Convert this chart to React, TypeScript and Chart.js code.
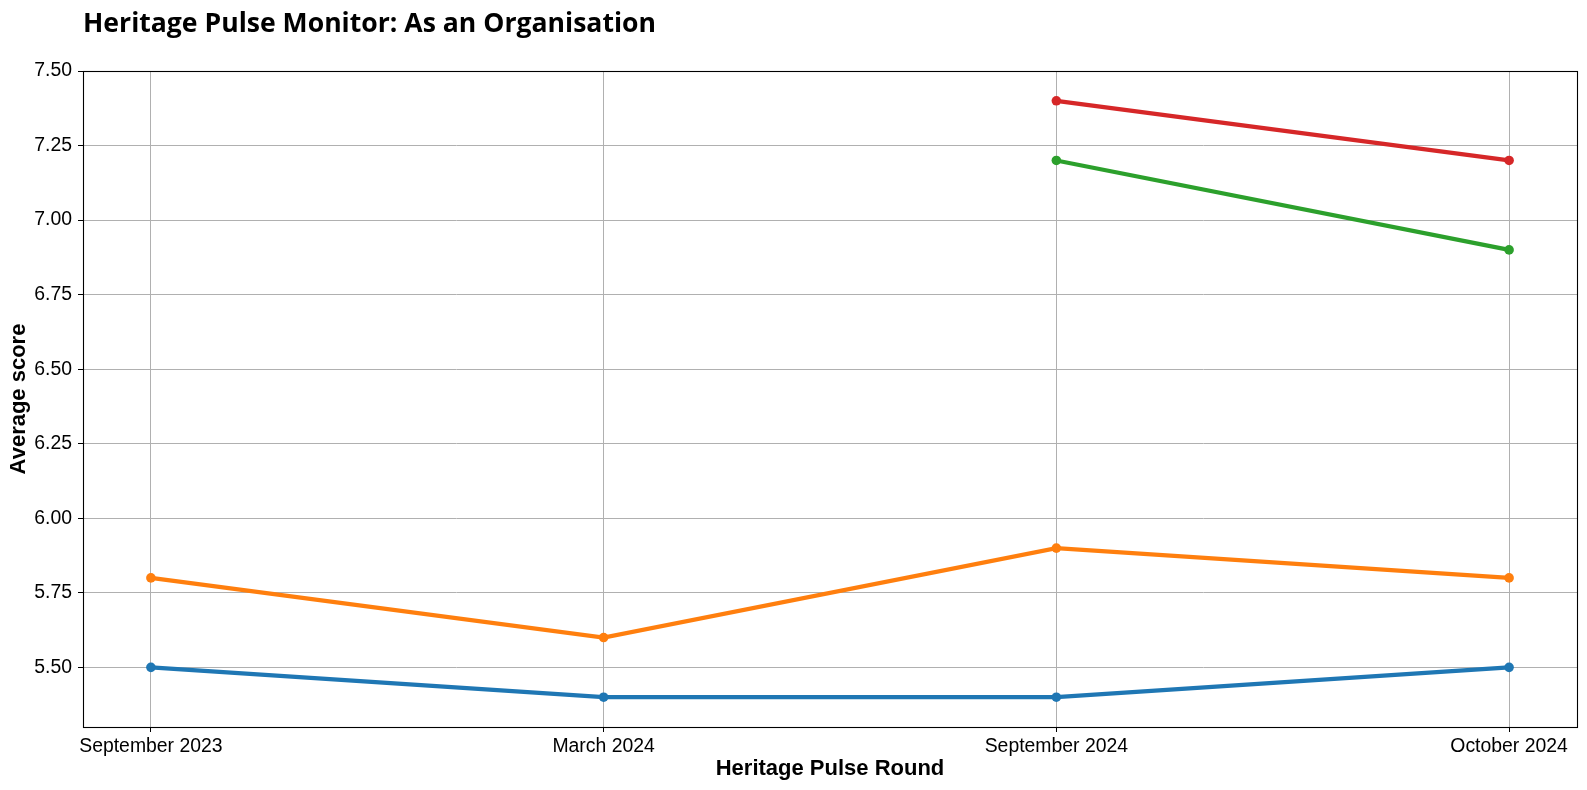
import React, { useEffect, useRef } from "react";
import { Chart, registerables } from "chart.js";

Chart.register(...registerables);

const TITLE = "Heritage Pulse Monitor: As an Organisation";
const X_TITLE = "Heritage Pulse Round";
const Y_TITLE = "Average score";

const rounds = ["September 2023", "March 2024", "September 2024", "October 2024"];
const seriesBlue = [5.5, 5.4, 5.4, 5.5];
const seriesOrange = [5.8, 5.6, 5.9, 5.8];
const seriesGreen = [null, null, 7.2, 6.9];
const seriesRed = [null, null, 7.4, 7.2];
const yTickValues = [5.5, 5.75, 6.0, 6.25, 6.5, 6.75, 7.0, 7.25, 7.5];

const Y_MIN = 5.3;
const Y_MAX = 7.5;
const X_MIN = -0.15;
const X_MAX = 3.15;

const TICK_FONT = "'Liberation Sans', Arial, sans-serif";
const TITLE_FONT = "'Open Sans', 'Noto Sans', sans-serif";
const TITLE_WIDTH = 573;

const toPoints = (vals: (number | null)[]) => vals.map((v, i) => ({ x: i, y: v }));

const titlePlugin = {
  id: "titleAndFrame",
  afterDatasetsDraw(chart: any) {
    const { ctx, chartArea } = chart;
    ctx.save();
    ctx.strokeStyle = "#000";
    ctx.lineWidth = 1.1;
    ctx.strokeRect(
      Math.round(chartArea.left) + 0.5,
      Math.round(chartArea.top) + 0.5,
      Math.round(chartArea.right) - Math.round(chartArea.left),
      Math.round(chartArea.bottom) - Math.round(chartArea.top)
    );
    ctx.restore();
  },
  afterDraw(chart: any) {
    const { ctx } = chart;
    ctx.save();
    ctx.fillStyle = "#000";
    ctx.font = `bold 26px ${TITLE_FONT}`;
    ctx.textBaseline = "alphabetic";
    ctx.textAlign = "left";
    const w = ctx.measureText(TITLE).width;
    const sx = w > 0 ? TITLE_WIDTH / w : 1;
    ctx.translate(83, 32);
    ctx.scale(sx, 1);
    ctx.fillText(TITLE, 0, 0);
    ctx.restore();
  },
};

export default function App() {
  const ref = useRef<HTMLCanvasElement | null>(null);

  useEffect(() => {
    if (!ref.current) return;
    const mk = (label: string, data: (number | null)[], color: string, order: number) => ({
      label,
      data: toPoints(data),
      borderColor: color,
      backgroundColor: color,
      borderWidth: 4.2,
      pointRadius: 4.8,
      pointBorderWidth: 0,
      pointBackgroundColor: color,
      spanGaps: false,
      tension: 0,
      order,
    });
    const chart = new Chart(ref.current, {
      type: "line",
      data: {
        datasets: [
          mk("Series 1", seriesBlue, "#1f77b4", 3),
          mk("Series 2", seriesOrange, "#ff7f0e", 2),
          mk("Series 3", seriesGreen, "#2ca02c", 1),
          mk("Series 4", seriesRed, "#d62728", 0),
        ],
      },
      options: {
        animation: false,
        responsive: false,
        layout: { padding: { left: 0, right: 10, top: 71, bottom: 0 } },
        plugins: {
          legend: { display: false },
          tooltip: { enabled: false },
          title: { display: false },
        },
        scales: {
          x: {
            type: "linear",
            min: X_MIN,
            max: X_MAX,
            afterBuildTicks: (scale: any) => {
              scale.ticks = rounds.map((_, i) => ({ value: i }));
            },
            afterFit: (scale: any) => {
              scale.height = 63;
            },
            ticks: {
              callback: (v: any) => rounds[Math.round(Number(v))] ?? "",
              color: "#000",
              font: { family: TICK_FONT, size: 19.4 },
              padding: 3,
              maxRotation: 0,
              autoSkip: false,
            },
            grid: {
              color: "#b0b0b0",
              lineWidth: 1,
              tickColor: "#000",
              tickLength: 5,
              drawTicks: true,
            },
            border: { display: false },
            title: {
              display: true,
              text: X_TITLE,
              color: "#000",
              font: { family: TICK_FONT, size: 22, weight: "bold" },
              padding: { top: 0, bottom: 8 },
            },
          },
          y: {
            type: "linear",
            min: Y_MIN,
            max: Y_MAX,
            afterBuildTicks: (scale: any) => {
              scale.ticks = yTickValues.map((v) => ({ value: v }));
            },
            afterFit: (scale: any) => {
              scale.width = 83;
            },
            ticks: {
              callback: (v: any) => Number(v).toFixed(2),
              color: "#000",
              font: { family: TICK_FONT, size: 19.4 },
              padding: 6,
            },
            grid: {
              color: "#b0b0b0",
              lineWidth: 1,
              tickColor: "#000",
              tickLength: 5,
              drawTicks: true,
            },
            border: { display: false },
            title: {
              display: true,
              text: Y_TITLE,
              color: "#000",
              font: { family: TICK_FONT, size: 22, weight: "bold" },
              padding: { top: 6, bottom: 0 },
            },
          },
        },
      } as any,
      plugins: [titlePlugin],
    });
    return () => chart.destroy();
  }, []);

  return (
    <div style={{ position: "fixed", left: 0, top: 0, width: 1587, height: 790, background: "#fff" }}>
      <canvas ref={ref} width={1587} height={790} style={{ display: "block" }} />
    </div>
  );
}
